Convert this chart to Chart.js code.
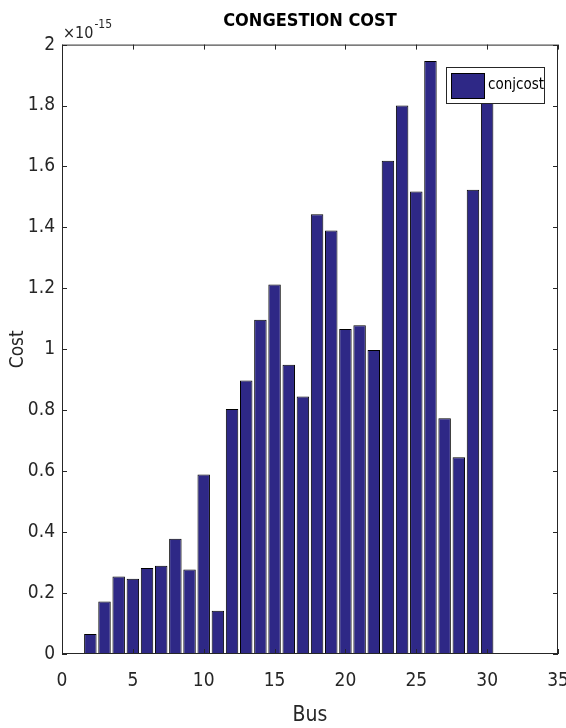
<!DOCTYPE html>
<html>
<head>
<meta charset="utf-8">
<script src="https://cdn.jsdelivr.net/npm/chart.js@4"></script>
<style>
  html, body { margin: 0; padding: 0; background: #fff; }
  #wrap { width: 566px; height: 728px; }
</style>
</head>
<body>
<div id="wrap"><canvas id="costChart" width="566" height="728"></canvas></div>
<script>
// Bus numbers and congestion cost (values are in units of 1e-15)
const buses = [1, 2, 3, 4, 5, 6, 7, 8, 9, 10, 11, 12, 13, 14, 15,
  16, 17, 18, 19, 20, 21, 22, 23, 24, 25, 26, 27, 28, 29, 30];
const conjcost = [0, 0.066, 0.172, 0.254, 0.247, 0.282, 0.29, 0.378, 0.277, 0.589,
  0.142, 0.804, 0.898, 1.097, 1.213, 0.949, 0.845, 1.443, 1.39, 1.067,
  1.079, 0.998, 1.619, 1.80, 1.518, 1.946, 0.774, 0.646, 1.524, 1.9];
const xTicks = [0, 5, 10, 15, 20, 25, 30, 35];
const yTicks = [0, 0.2, 0.4, 0.6, 0.8, 1, 1.2, 1.4, 1.6, 1.8, 2];
const yExponent = "-15";

const FONT = "'DejaVu Sans Condensed', 'Liberation Sans', sans-serif";
const AXIS_COLOR = "#262626";
const BAR_COLOR = "#2e2886";

// Frame, inward ticks, exponent label and legend drawn like MATLAB
const matlabFrame = {
  id: "matlabFrame",
  afterDraw(chart) {
    const { ctx, chartArea: a, scales } = chart;
    const len = 5;
    ctx.save();
    ctx.strokeStyle = AXIS_COLOR;
    ctx.lineWidth = 1;
    ctx.strokeRect(a.left + 0.5, a.top + 0.5, a.right - a.left - 1, a.bottom - a.top - 1);

    ctx.beginPath();
    scales.x.ticks.forEach(t => {
      const px = Math.round(scales.x.getPixelForValue(t.value)) + 0.5;
      ctx.moveTo(px, a.bottom); ctx.lineTo(px, a.bottom - len);
      ctx.moveTo(px, a.top); ctx.lineTo(px, a.top + len);
    });
    scales.y.ticks.forEach(t => {
      const py = Math.round(scales.y.getPixelForValue(t.value)) + 0.5;
      ctx.moveTo(a.left, py); ctx.lineTo(a.left + len, py);
      ctx.moveTo(a.right, py); ctx.lineTo(a.right - len, py);
    });
    ctx.stroke();

    // x10^-15 multiplier
    ctx.fillStyle = AXIS_COLOR;
    ctx.textBaseline = "alphabetic";
    ctx.textAlign = "left";
    ctx.font = "16px " + FONT;
    ctx.fillText("\u00d710", a.left + 1, a.top - 7);
    const w = ctx.measureText("\u00d710").width;
    ctx.font = "12px " + FONT;
    ctx.fillText(yExponent, a.left + w + 2, a.top - 17);

    // legend box inside the axes
    const lx = 446, ly = 67, lw = 98, lh = 36;
    ctx.fillStyle = "#fff";
    ctx.fillRect(lx, ly, lw, lh);
    ctx.strokeStyle = AXIS_COLOR;
    ctx.strokeRect(lx + 0.5, ly + 0.5, lw, lh);
    ctx.fillStyle = BAR_COLOR;
    ctx.fillRect(lx + 5, ly + 6, 33, 25);
    ctx.strokeStyle = "#000";
    ctx.strokeRect(lx + 5.5, ly + 6.5, 33, 25);
    ctx.fillStyle = "#000";
    ctx.font = "15px " + FONT;
    ctx.textBaseline = "middle";
    ctx.fillText(chart.data.datasets[0].label, lx + 42, ly + lh / 2);
    ctx.restore();
  }
};

const ctx = document.getElementById("costChart").getContext("2d");
new Chart(ctx, {
  type: "bar",
  data: {
    datasets: [{
      label: "conjcost",
      data: buses.map((b, i) => ({ x: b, y: conjcost[i] })),
      backgroundColor: BAR_COLOR,
      borderColor: "#000",
      borderWidth: 1,
      barPercentage: 0.88,
      categoryPercentage: 1.0
    }]
  },
  options: {
    responsive: false,
    animation: false,
    layout: { padding: { left: 0, right: 8, top: 0, bottom: 0 } },
    plugins: {
      legend: { display: false },
      tooltip: { enabled: false },
      title: {
        display: true,
        text: "CONGESTION COST",
        fullSize: false,
        color: "#000",
        font: { family: FONT, size: 18, weight: "bold", lineHeight: 1.2 },
        padding: { top: 11, bottom: 12 }
      }
    },
    scales: {
      x: {
        type: "linear",
        min: 0,
        max: 35,
        offset: false,
        afterBuildTicks: s => { s.ticks = xTicks.map(v => ({ value: v })); },
        afterFit: s => { s.height = 74; s.paddingLeft = 0; s.paddingRight = 0; },
        grid: { display: false, drawTicks: false, offset: false },
        border: { display: false },
        ticks: {
          color: AXIS_COLOR,
          padding: 16,
          font: { family: FONT, size: 19 }
        },
        title: {
          display: true,
          text: "Bus",
          color: AXIS_COLOR,
          font: { family: FONT, size: 21, lineHeight: 1.2 },
          padding: { top: 0, bottom: 0 }
        }
      },
      y: {
        min: 0,
        max: 2,
        afterBuildTicks: s => { s.ticks = yTicks.map(v => ({ value: v })); },
        afterFit: s => { s.width = 62; s.paddingTop = 0; s.paddingBottom = 0; },
        grid: { display: false, drawTicks: false },
        border: { display: false },
        ticks: {
          color: AXIS_COLOR,
          padding: 7,
          font: { family: FONT, size: 19 },
          callback: v => String(Math.round(v * 10) / 10)
        },
        title: {
          display: true,
          text: "Cost",
          color: AXIS_COLOR,
          font: { family: FONT, size: 19, lineHeight: 1.2 },
          padding: { top: 7, bottom: 0 }
        }
      }
    }
  },
  plugins: [matlabFrame]
});
</script>
</body>
</html>
